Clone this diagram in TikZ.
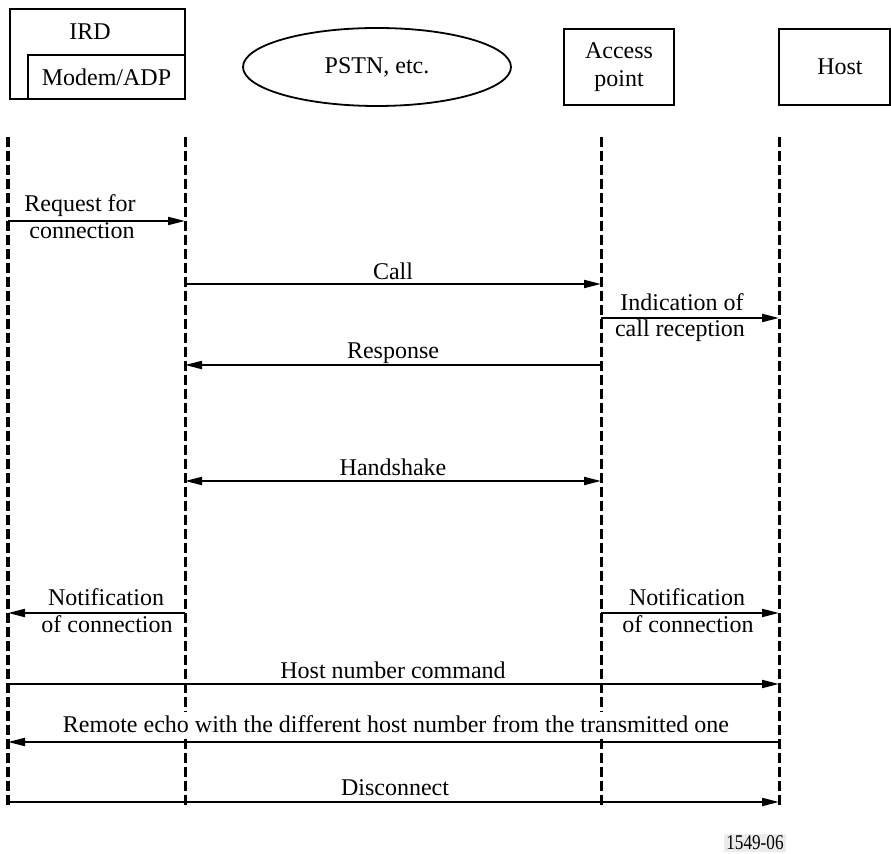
\documentclass[tikz,border=0pt]{standalone}
\usepackage{fontspec}
\setmainfont{Liberation Serif}
\usetikzlibrary{arrows.meta,shapes.geometric}
\begin{document}
\begin{tikzpicture}[x=0.5pt,y=-0.5pt,
  lbl/.style={font=\fontsize{12}{14}\selectfont, inner sep=0pt, anchor=base},
  boxnode/.style={draw, line width=0.9pt, inner sep=0pt, font=\fontsize{12}{14}\selectfont, align=center},
  life/.style={line width=1.5pt, dash pattern=on 5pt off 2pt},
  msg/.style={line width=1pt, -{Triangle[length=8.5pt,width=4pt]}},
  msgboth/.style={line width=1pt, {Triangle[length=8.5pt,width=4pt]}-{Triangle[length=8.5pt,width=4pt]}}
]
\useasboundingbox (0,0) rectangle (891,854);

% header boxes
\node[boxnode, minimum width=87.5pt, minimum height=45pt] (ird) at (97.5,54) {};
\node[lbl, anchor=center] (irdt) at (90,32) {IRD};
\node[boxnode, minimum width=78.5pt, minimum height=22pt] (modem) at (106.5,77) {Modem/ADP};
\node[draw, ellipse, line width=0.9pt, minimum width=134pt, minimum height=39pt, inner sep=0pt, font=\fontsize{12}{14}\selectfont] (pstn) at (377,67) {PSTN, etc.};
\node[boxnode, minimum width=55pt, minimum height=38pt] (ap) at (619,67) {Access\\point};
\node[boxnode, minimum width=55.5pt, minimum height=38pt] (host) at (834.5,67) {};
\node[lbl, anchor=center] (hostt) at (840,67) {Host};

% lifelines
\coordinate (l1t) at (8,137);   \coordinate (l1b) at (8,808);
\coordinate (l2t) at (185,137); \coordinate (l2b) at (185,808);
\coordinate (l3t) at (601,137); \coordinate (l3b) at (601,808);
\coordinate (l4t) at (779,137); \coordinate (l4b) at (779,808);
\draw[life] (l1t) -- (l1b);
\draw[life] (l2t) -- (l2b);
\draw[life] (l3t) -- (l3b);
\draw[life] (l4t) -- (l4b);

% message rows
\coordinate (m1) at (0,221);
\coordinate (m2) at (0,284);
\coordinate (m3) at (0,318);
\coordinate (m4) at (0,365);
\coordinate (m5) at (0,481);
\coordinate (m6) at (0,613);
\coordinate (m7) at (0,684);
\coordinate (m8) at (0,742);
\coordinate (m9) at (0,802);

\draw[msg] (l1t |- m1) -- (l2t |- m1);
\draw[msg] (l2t |- m2) -- (l3t |- m2);
\draw[msg] (l3t |- m3) -- (l4t |- m3);
\draw[msg] (l3t |- m4) -- (l2t |- m4);
\draw[msgboth] (l2t |- m5) -- (l3t |- m5);
\draw[msg] (l2t |- m6) -- (l1t |- m6);
\draw[msg] (l3t |- m6) -- (l4t |- m6);
\draw[msg] (l1t |- m7) -- (l4t |- m7);
\draw[msg] (l4t |- m8) -- (l1t |- m8);
\draw[msg] (l1t |- m9) -- (l4t |- m9);

% labels
\node[lbl] (t1a) at (80,212) {Request for};
\node[lbl] (t1b) at (82,239) {connection};
\node[lbl] (t2) at (393,280) {Call};
\node[lbl] (t3a) at (682,311) {Indication of};
\node[lbl] (t3b) at (680,337) {call reception};
\node[lbl] (t4) at (393,359) {Response};
\node[lbl] (t5) at (393,476) {Handshake};
\node[lbl] (t6a) at (106,606) {Notification};
\node[lbl] (t6b) at (107,633) {of connection};
\node[lbl] (t7a) at (687,606) {Notification};
\node[lbl] (t7b) at (688,633) {of connection};
\node[lbl] (t8) at (393,679) {Host number command};
\node[lbl, fill=white, inner ysep=2pt, inner xsep=0pt] (t9) at (396,733) {Remote echo with the different host number from the transmitted one};
\node[lbl] (t10) at (395,796) {Disconnect};

\node[fill=gray!15, inner sep=1pt, font=\fontsize{10.5}{11}\selectfont] (fig) at (755,843) {\scalebox{0.82}[1]{1549-06}};
\end{tikzpicture}
\end{document}
